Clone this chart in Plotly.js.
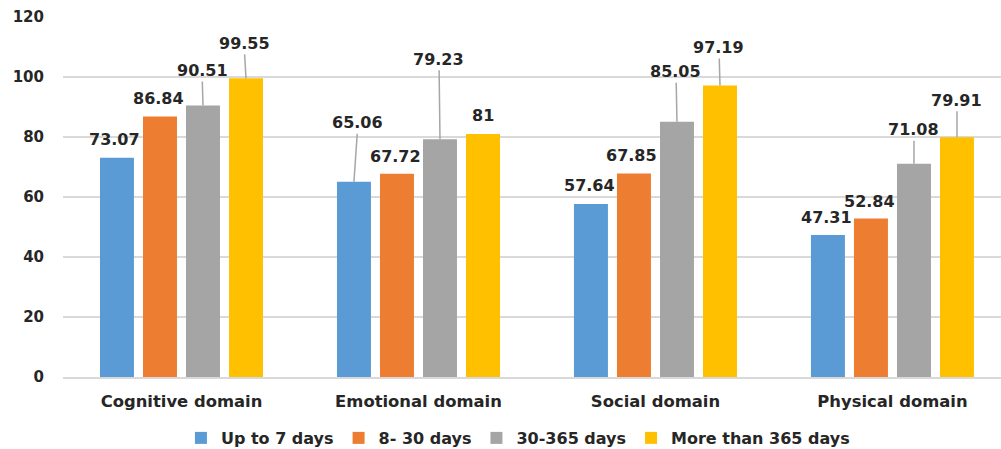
<!DOCTYPE html>
<html>
<head>
<meta charset="utf-8">
<script src="https://cdn.plot.ly/plotly-3.0.1.min.js"></script>
<style>html,body{margin:0;padding:0;background:#fff;}#chart{width:1001px;height:449px;}</style>
</head>
<body>
<div id="chart"></div>
<script>
const categories = ['Cognitive domain', 'Emotional domain', 'Social domain', 'Physical domain'];
const seriesNames = ['Up to 7 days', '8- 30 days', '30-365 days', 'More than 365 days'];
const upTo7Days = [73.07, 65.06, 57.64, 47.31];
const days8to30 = [86.84, 67.72, 67.85, 52.84];
const days30to365 = [90.51, 79.23, 85.05, 71.08];
const moreThan365 = [99.55, 81, 97.19, 79.91];
const yTicks = [0, 20, 40, 60, 80, 100, 120];

const seriesValues = [upTo7Days, days8to30, days30to365, moreThan365];
const colors = ['#5B9BD5', '#ED7D31', '#A5A5A5', '#FFC000'];

// label placement (pixels): [dx, dy, leaderLine]
const labelPlacement = [
  [[-2, -18, false], [4, -59, true], [-1, -19, false], [-1, -18, false]],
  [[-1, -18, false], [-1, -17, false], [-2, -18, false], [-1, -17, false]],
  [[-1, -35, true], [-1, -80, true], [-1, -50, true], [0, -34, true]],
  [[-2, -35, true], [0, -19, false], [-1, -38, true], [0, -37, true]]
];

const bargap = 0.274;
const bargroupgap = 0.21;
const slot = (1 - bargap) / seriesValues.length;

const textColor = '#262626';
const fontFam = 'DejaVu Sans, Verdana, sans-serif';

const traces = seriesValues.map((vals, j) => ({
  type: 'bar',
  name: seriesNames[j],
  x: categories,
  y: vals,
  marker: {color: colors[j]},
  hoverinfo: 'x+y+name'
}));

const annotations = [];
seriesValues.forEach((vals, j) => {
  vals.forEach((v, i) => {
    const [dx, dy, leader] = labelPlacement[j][i];
    const xPos = i + (j - (seriesValues.length - 1) / 2) * slot;
    const base = {
      x: xPos, y: v, xref: 'x', yref: 'y',
      text: String(v),
      font: {family: fontFam, size: 16, color: textColor, weight: 'bold'}
    };
    if (leader) {
      annotations.push(Object.assign(base, {
        showarrow: true, arrowhead: 0, arrowwidth: 1.5, arrowcolor: '#A6A6A6',
        ax: dx, ay: dy, standoff: 0, startstandoff: 0, borderpad: 1
      }));
    } else {
      annotations.push(Object.assign(base, {
        showarrow: false, xshift: dx, yshift: -dy, yanchor: 'middle', xanchor: 'center'
      }));
    }
  });
});

const layout = {
  width: 1001, height: 449,
  margin: {l: 63, r: 0, t: 17, b: 72, pad: 0, autoexpand: false},
  paper_bgcolor: '#ffffff', plot_bgcolor: '#ffffff',
  barmode: 'group', bargap: bargap, bargroupgap: bargroupgap,
  font: {family: fontFam, color: textColor},
  xaxis: {
    type: 'category',
    range: [-0.5, 3.458],
    showgrid: false, zeroline: false,
    showline: true, linecolor: '#D9D9D9', linewidth: 1.5,
    ticks: '', ticklabelstandoff: 9,
    tickfont: {family: fontFam, size: 16.4, color: textColor, weight: 'bold'},
    fixedrange: true
  },
  yaxis: {
    range: [0, 120],
    tickvals: yTicks,
    showgrid: true, gridcolor: '#D9D9D9', gridwidth: 1.5,
    zeroline: false, showline: false, ticks: '',
    ticklabelstandoff: 18,
    tickfont: {family: fontFam, size: 15, color: textColor, weight: 'bold'},
    fixedrange: true
  },
  legend: {
    orientation: 'h', x: 0.485, xanchor: 'center', y: -0.1694, yanchor: 'middle',
    font: {family: fontFam, size: 16, color: textColor, weight: 'bold'},
    itemwidth: 30, traceorder: 'normal', bgcolor: 'rgba(0,0,0,0)'
  },
  annotations: annotations,
  showlegend: true
};

Plotly.newPlot('chart', traces, layout, {displayModeBar: false, staticPlot: true});
</script>
</body>
</html>
